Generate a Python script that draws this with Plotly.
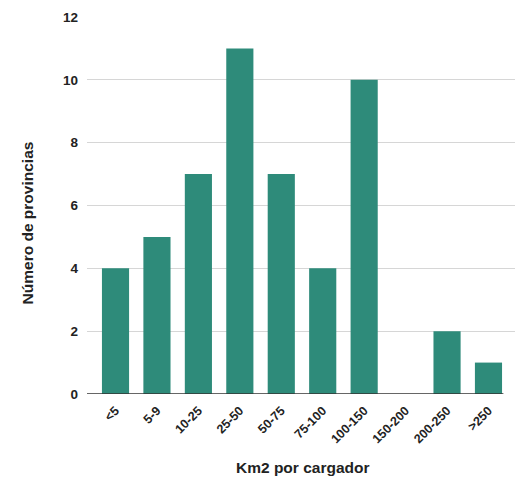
import plotly.graph_objects as go

categorias = ["<5", "5-9", "10-25", "25-50", "50-75", "75-100", "100-150", "150-200", "200-250", ">250"]
provincias = [4, 5, 7, 11, 7, 4, 10, 0, 2, 1]
y_ticks = [0, 2, 4, 6, 8, 10, 12]

titulo_x = "Km2 por cargador"
titulo_y = "Número de provincias"

color_barra = "#2e8b7a"
color_texto = "#222222"
fuente = "Liberation Sans, Arial, sans-serif"

fig = go.Figure(
    go.Bar(
        x=list(range(len(categorias))),
        y=provincias,
        marker=dict(color=color_barra, line=dict(width=0)),
        width=0.655,
        hoverinfo="y",
    )
)

x_min, x_max = -0.688, 9.64

fig.update_layout(
    width=515,
    height=481,
    margin=dict(l=87, r=0, t=17, b=87),
    paper_bgcolor="white",
    plot_bgcolor="white",
    showlegend=False,
    font=dict(family=fuente, color=color_texto),
    xaxis=dict(
        range=[x_min, x_max],
        tickmode="array",
        tickvals=list(range(len(categorias))),
        ticktext=categorias,
        tickangle=-45,
        tickfont=dict(size=12.5, family=fuente, weight="bold", color=color_texto),
        ticklabelstandoff=6,
        showgrid=False,
        showline=False,
        zeroline=False,
        ticks="",
    ),
    yaxis=dict(
        range=[0, 12],
        tickmode="array",
        tickvals=y_ticks,
        tickfont=dict(size=13.5, family=fuente, weight="bold", color=color_texto),
        showgrid=True,
        gridcolor="#d6d6d6",
        gridwidth=1,
        zeroline=False,
        showline=False,
        ticks="",
        ticklabelstandoff=8,
    ),
    shapes=[
        dict(
            type="line", xref="x", yref="y",
            x0=x_min, x1=9.36, y0=0, y1=0,
            line=dict(color="#333333", width=1.5),
            layer="above",
        )
    ],
    annotations=[
        dict(
            text=titulo_x, xref="paper", yref="paper",
            x=0.505, y=-0.195, xanchor="center", yanchor="middle",
            showarrow=False,
            font=dict(size=15.5, family=fuente, weight="bold", color=color_texto),
        ),
        dict(
            text=titulo_y, xref="paper", yref="paper",
            x=-0.138, y=0.455, xanchor="center", yanchor="middle",
            textangle=-90, showarrow=False,
            font=dict(size=15.5, family=fuente, weight="bold", color=color_texto),
        ),
    ],
)

fig.write_html("out.html")
